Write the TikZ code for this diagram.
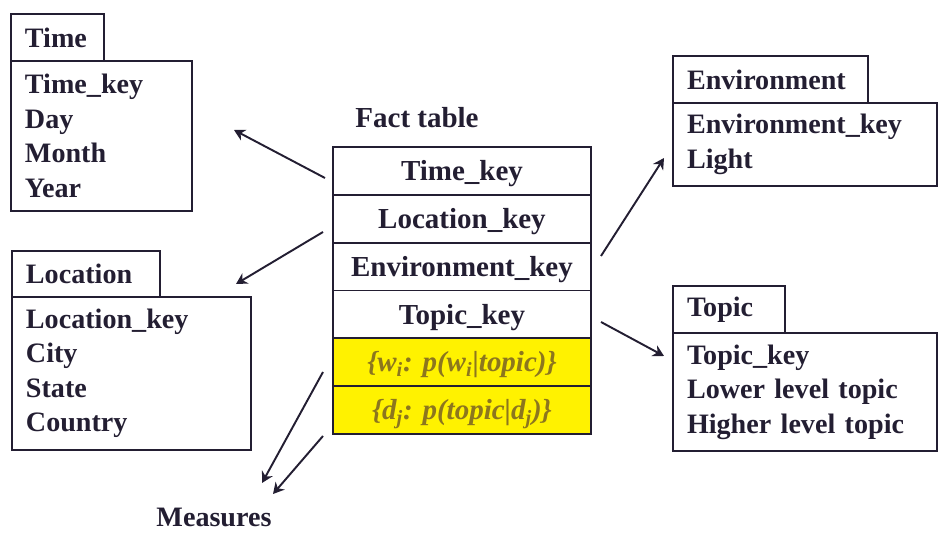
\documentclass[tikz,border=0pt]{standalone}
\usepackage{fontspec}
\setmainfont{Liberation Serif}
\usetikzlibrary{positioning,arrows.meta}
\definecolor{inkdark}{RGB}{35,30,50}
\definecolor{measureink}{RGB}{140,118,30}
\tikzset{
  dimbox/.style={draw=inkdark,line width=1pt,anchor=north west,align=left,
    inner xsep=0.28cm,inner ysep=0pt,outer sep=0pt,text=inkdark,
    font=\fontsize{16}{19.6}\selectfont\bfseries},
  factrow/.style={draw=inkdark,line width=1pt,minimum width=5.16cm,
    minimum height=0.957cm,inner sep=0pt,outer sep=0pt,text=inkdark,
    text height=11pt,text depth=0pt,
    font=\fontsize{16.5}{19}\selectfont\bfseries},
  measurerow/.style={factrow,fill=yellow,text=measureink,
    font=\fontsize{16.5}{19}\selectfont\bfseries\itshape},
  link/.style={-{Stealth[length=2.2mm,width=2.4mm,inset=0.7mm]},draw=inkdark,line width=1.1pt}
}
\begin{document}
\begin{tikzpicture}[x=0.02cm,y=-0.02cm]
  \useasboundingbox (0,0) rectangle (939,533);
  % dimension tables
  \node[dimbox,text width=3.06cm,minimum height=3.0cm] (timebody) at (11,61)
    {Time\_key\\Day\\Month\\Year};
  \node[dimbox,text width=1.30cm,minimum height=0.94cm,above right=0pt of timebody.north west] (timetab) {Time};
  \node[dimbox,text width=4.22cm,minimum height=3.06cm] (locbody) at (12,297)
    {Location\_key\\City\\State\\Country};
  \node[dimbox,text width=2.40cm,minimum height=0.92cm,above right=0pt of locbody.north west] (loctab) {Location};
  \node[dimbox,text width=4.72cm,minimum height=1.66cm] (envbody) at (673,103)
    {Environment\_key\\Light};
  \node[dimbox,text width=3.34cm,minimum height=0.94cm,above right=0pt of envbody.north west] (envtab) {Environment};
  \node[dimbox,text width=4.72cm,minimum height=2.36cm] (topicbody) at (673,333)
    {Topic\_key\\Lower level topic\\Higher level topic};
  \node[dimbox,text width=1.68cm,minimum height=0.94cm,above right=0pt of topicbody.north west] (topictab) {Topic};
  % fact table
  \node[factrow,anchor=north west] (facttime) at (333,147) {Time\_key};
  \node[factrow,below=0pt of facttime] (factloc) {Location\_key};
  \node[factrow,below=0pt of factloc] (factenv) {Environment\_key};
  \node[factrow,below=0pt of factenv] (facttopic) {Topic\_key};
  \node[measurerow,below=0pt of facttopic] (factwords)
    {\{w\textsubscript{i}: p(w\textsubscript{i}|topic)\}};
  \node[measurerow,below=0pt of factwords] (factdocs)
    {\{d\textsubscript{j}: p(topic|d\textsubscript{j})\}};
  \node[text=inkdark,font=\fontsize{16.5}{19}\selectfont\bfseries] (facttitle) at (417,118) {Fact table};
  \node[text=inkdark,font=\fontsize{16}{19}\selectfont\bfseries] (measures) at (214,517) {Measures};
  % arrows
  \coordinate (timefrom) at (325,178);
  \coordinate (timeto) at (234,130);
  \coordinate (locfrom) at (323,232);
  \coordinate (locto) at (236,284);
  \coordinate (wordsfrom) at (323,372);
  \coordinate (wordsto) at (262,483);
  \coordinate (docsfrom) at (323,436);
  \coordinate (docsto) at (273,494);
  \coordinate (envfrom) at (601,256);
  \coordinate (envto) at (664,158);
  \coordinate (topicfrom) at (601,322);
  \coordinate (topicto) at (664,356);
  \draw[link] (timefrom) -- (timeto);
  \draw[link] (locfrom) -- (locto);
  \draw[link] (wordsfrom) -- (wordsto);
  \draw[link] (docsfrom) -- (docsto);
  \draw[link] (envfrom) -- (envto);
  \draw[link] (topicfrom) -- (topicto);
\end{tikzpicture}
\end{document}
